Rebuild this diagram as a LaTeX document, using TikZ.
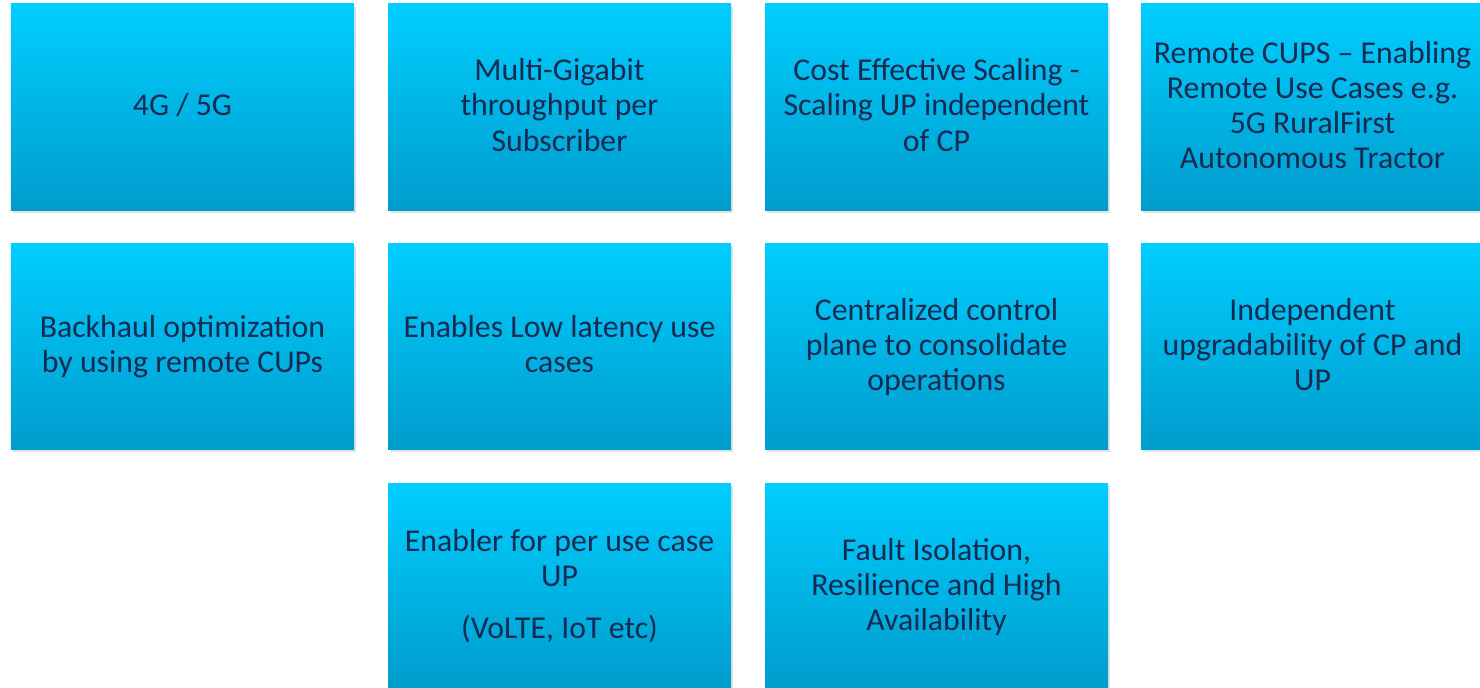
\documentclass[tikz,border=0pt]{standalone}
\usepackage{fontspec}
\setmainfont{Carlito}
\usepackage{tikz}
\usetikzlibrary{shadows}
\definecolor{boxtop}{RGB}{0,206,255}
\definecolor{boxbottom}{RGB}{0,156,204}
\definecolor{boxtext}{RGB}{22,42,82}
\tikzset{
  feature/.style={rectangle, minimum width=343bp, minimum height=206bp,
    top color=boxtop, bottom color=boxbottom, draw=none,
    drop shadow={opacity=0.22, shadow xshift=2bp, shadow yshift=-3bp},
    text=boxtext, align=center, inner sep=0pt,
    font=\fontsize{31.8bp}{35bp}\selectfont}
}
\newcommand{\featurebox}[4]{\node[feature] (#1) at (#2+171.5,#3+103) {\raisebox{-2bp}[\height][\depth]{\begin{tabular}{@{}c@{}}#4\end{tabular}}};}
\begin{document}
\begin{tikzpicture}[x=1bp,y=-1bp]
\useasboundingbox (0,0) rectangle (1480,688);
\clip (0,0) rectangle (1480,688);
% first row
\featurebox{gen}{11}{4}{4G / 5G}
\featurebox{gigabit}{388}{4}{Multi-Gigabit\\throughput per\\Subscriber}
\featurebox{scaling}{765}{4}{Cost Effective Scaling -\\Scaling UP independent\\of CP}
\featurebox{remote}{1141}{4}{Remote CUPS -- Enabling\\Remote Use Cases e.g.\\5G RuralFirst\\Autonomous Tractor}
% second row
\featurebox{backhaul}{11}{243}{Backhaul optimization\\by using remote CUPs}
\featurebox{latency}{388}{243}{Enables Low latency use\\cases}
\featurebox{central}{765}{243}{Centralized control\\plane to consolidate\\operations}
\featurebox{upgrade}{1141}{243}{Independent\\upgradability of CP and\\UP}
% third row
\featurebox{usecase}{388}{483}{Enabler for per use case\\UP\\[17bp](VoLTE, IoT etc)}
\featurebox{fault}{765}{483}{Fault Isolation,\\Resilience and High\\Availability}
\end{tikzpicture}
\end{document}
